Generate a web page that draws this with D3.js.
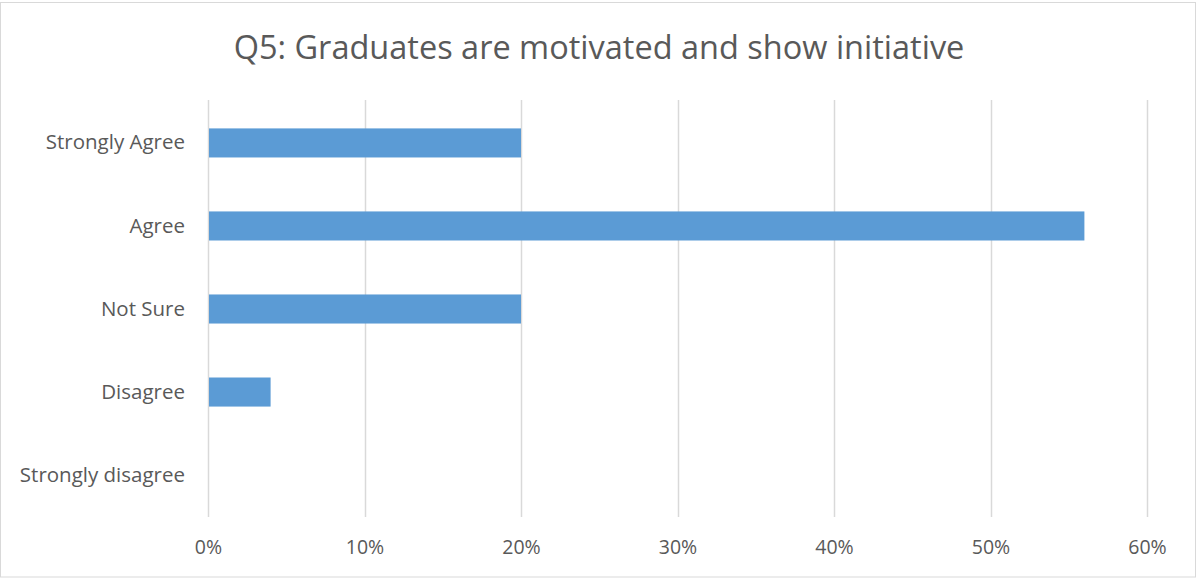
<!DOCTYPE html>
<html>
<head>
<meta charset="utf-8">
<script src="https://cdn.jsdelivr.net/npm/d3@7"></script>
<style>
  html, body { margin: 0; padding: 0; background: #fff; }
  svg { display: block; }
  text { font-family: "Open Sans", "Noto Sans", sans-serif; fill: #595959; }
</style>
</head>
<body>
<svg id="chart" width="1198" height="578"></svg>
<script>
const categories = ["Strongly Agree", "Agree", "Not Sure", "Disagree", "Strongly disagree"];
const shares = [0.20, 0.56, 0.20, 0.04, 0.00];
const tickValues = [0, 0.1, 0.2, 0.3, 0.4, 0.5, 0.6];
const title = "Q5: Graduates are motivated and show initiative";

const W = 1198, H = 578;
const plot = { left: 208, right: 1147, top: 101, bottom: 517 };

const svg = d3.select("#chart");

// outer chart frame
svg.append("rect")
  .attr("x", 0.5).attr("y", 2.5)
  .attr("width", W - 3).attr("height", H - 3.5)
  .attr("fill", "#fff").attr("stroke", "#d9d9d9").attr("stroke-width", 1);

svg.append("text")
  .attr("x", 599).attr("y", 59)
  .attr("text-anchor", "middle")
  .style("font-size", "32.5px")
  .text(title);

const x = d3.scaleLinear().domain([0, 0.6]).range([plot.left, plot.right]);
const y = d3.scaleBand().domain(categories).range([plot.top, plot.bottom]).paddingInner(0.65).paddingOuter(0.33);

// vertical gridlines
svg.append("g").selectAll("line")
  .data(tickValues).join("line")
  .attr("x1", d => Math.round(x(d)) + 0.5).attr("x2", d => Math.round(x(d)) + 0.5)
  .attr("y1", plot.top - 1).attr("y2", plot.bottom)
  .attr("stroke", "#d9d9d9").attr("stroke-width", 1.5);

// bars
svg.append("g").selectAll("rect")
  .data(categories.map((c, i) => ({ c, v: shares[i] })))
  .join("rect")
  .attr("x", x(0) + 1)
  .attr("y", d => y(d.c))
  .attr("width", d => Math.max(0, x(d.v) - x(0) - 1))
  .attr("height", y.bandwidth())
  .attr("fill", "#5b9bd5");

// x axis labels
const xAxis = d3.axisBottom(x).tickValues(tickValues).tickFormat(d3.format(".0%")).tickSize(0).tickPadding(23);
const gx = svg.append("g").attr("transform", `translate(0,${plot.bottom})`).call(xAxis);
gx.select(".domain").remove();
gx.selectAll("text").style("font-size", "19.5px").attr("fill", "#595959");

// y axis labels
const yAxis = d3.axisLeft(y).tickSize(0).tickPadding(23);
const gy = svg.append("g").attr("transform", `translate(${plot.left},0)`).call(yAxis);
gy.select(".domain").remove();
gy.selectAll("text").style("font-size", "20.5px").attr("fill", "#595959");
</script>
</body>
</html>
